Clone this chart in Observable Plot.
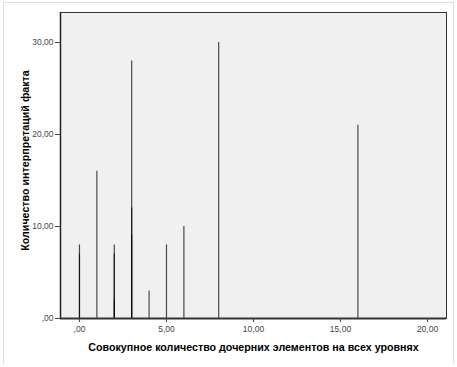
<!DOCTYPE html>
<html><head><meta charset="utf-8">
<script src="https://cdn.jsdelivr.net/npm/d3@7"></script>
<script src="https://cdn.jsdelivr.net/npm/@observablehq/plot@0.6"></script>
<style>
body{margin:0;background:#fff;}
#wrap{position:relative;width:457px;height:367px;}
#border{position:absolute;left:3px;top:2px;width:451px;height:362px;border-left:1px solid #ddd;border-top:1px solid #ddd;border-right:1px solid #ddd;box-sizing:border-box;pointer-events:none;}
</style></head>
<body><div id="wrap"><div id="border"></div></div>
<script>
const xValues = [0, 0, 1, 2, 2, 2, 3, 3, 3, 4, 5, 6, 8, 16];
const yValues = [8, 7, 16, 8, 7, 2, 28, 12, 9, 3, 8, 10, 30, 21];
const xTicks = [0, 5, 10, 15, 20];
const yTicks = [0, 10, 20, 30];
const xTitle = "Совокупное количество дочерних элементов на всех уровнях";
const yTitle = "Количество интерпретаций факта";

const data = xValues.map((x, i) => ({x, y: yValues[i]}));
const fmt = v => v === 0 ? ",00" : v.toFixed(2).replace(".", ",");

const chart = Plot.plot({
  width: 457, height: 367,
  marginLeft: 60, marginRight: 11, marginTop: 12, marginBottom: 49,
  style: {fontFamily: "Liberation Sans, Arial, sans-serif", background: "transparent", overflow: "visible"},
  x: {domain: [-1.09, 21.09]},
  y: {domain: [0, 33.26]},
  marks: [
    Plot.frame({fill: "#f0f0f0", stroke: "#333", strokeWidth: 1}),
    Plot.ruleX(data, {x: "x", y1: 0, y2: "y", stroke: "#000", strokeOpacity: 0.7, strokeWidth: 1.2}),
    Plot.ruleY([0], {stroke: "#333", strokeWidth: 2}),
    Plot.ruleX([-1.09], {stroke: "#222", strokeWidth: 1.5}),
    Plot.axisX(xTicks, {tickSize: 4, tickPadding: 3, tickFormat: fmt, fontSize: 8.5, color: "#444", label: null}),
    Plot.axisY(yTicks, {tickSize: 5, tickPadding: 2, tickFormat: fmt, fontSize: 8.5, color: "#444", label: null}),
    Plot.text([xTitle], {frameAnchor: "bottom", dy: 32, fontSize: 10.7, fontWeight: "bold", fill: "#000"}),
    Plot.text([yTitle], {frameAnchor: "left", textAnchor: "middle", dx: -35, dy: -5, rotate: -90, fontSize: 10.7, fontWeight: "bold", fill: "#000"})
  ]
});
chart.style.position = "absolute";
chart.style.left = "0";
chart.style.top = "0";
document.getElementById("wrap").appendChild(chart);
</script></body></html>
